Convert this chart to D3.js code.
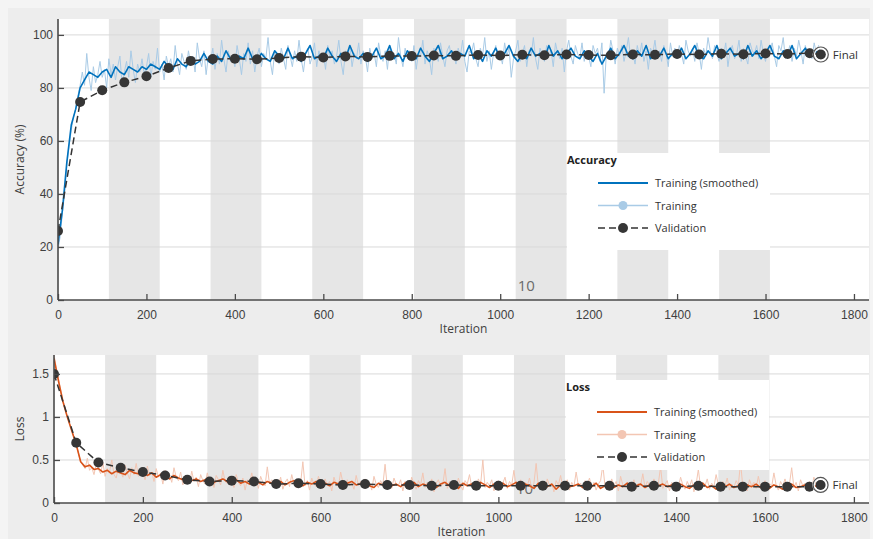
<!DOCTYPE html>
<html><head><meta charset="utf-8">
<script src="https://cdn.jsdelivr.net/npm/d3@7"></script>
<style>
html,body{margin:0;padding:0;background:#f4f4f4;}
svg{display:block;font-family:"Segoe UI","Open Sans","DejaVu Sans",sans-serif;}
</style></head>
<body><svg id="c" width="873" height="539"></svg>
<script>
// ---------------- DATA ----------------
const ITER_PER_EPOCH = 115;
const NUM_EPOCHS = 15;
const RAW_STEP = 5;      // raw training values every 5 iterations
const SMOOTH_STEP = 10;  // smoothed training values every 10 iterations
const xTicks = [0,200,400,600,800,1000,1200,1400,1600,1800];
const accTicks = [0,20,40,60,80,100];
const lossTicks = [0,0.5,1,1.5];
const lossTickLabels = ["0","0.5","1","1.5"];

const accRaw = [
19,24,33,40,51,58,64,69,72,77,81,86,81,93,84,79,88,82,85,90,
84,87,80,91,85,89,83,88,92,81,86,90,84,94,87,82,89,86,91,85,
88,93,84,90,87,95,86,89,83,92,88,91,86,96,89,85,93,90,87,94,
89,92,86,97,91,88,94,85,92,90,95,87,93,89,98,91,86,94,90,92,
88,96,91,85,93,90,97,89,94,86,92,95,88,93,91,99,90,85,94,92,
89,95,91,87,96,92,88,94,90,98,91,86,93,95,89,92,97,88,94,90,
93,87,96,91,94,89,92,98,90,85,94,92,96,88,93,91,97,89,94,92,
86,95,91,93,88,97,92,90,94,87,96,91,93,89,99,92,88,95,91,94,
90,96,87,93,92,98,89,94,91,85,95,93,90,97,92,88,94,96,91,93,
89,95,92,98,90,86,94,93,97,91,88,95,92,99,90,94,87,93,96,91,
93,89,97,92,95,84,91,94,98,90,93,96,88,94,92,99,91,87,95,93,
90,96,92,94,88,97,93,91,95,86,94,98,92,89,96,93,91,97,90,94,
92,88,96,93,95,90,97,78,93,91,98,94,89,95,92,96,90,94,99,91,
93,89,96,92,97,90,94,87,95,93,98,91,94,90,96,93,88,97,92,95,
91,96,93,89,98,94,92,95,90,97,93,87,95,92,99,94,91,96,93,90,
95,92,97,88,94,96,91,93,98,90,95,92,89,97,94,93,96,91,98,93,
90,95,93,97,92,88,96,94,99,91,93,96,90,95,92,98,94,89,96,93,
95,91,97,93,96,92];

const accSmooth = [
21,34,52,66,72,80,83,86,85,84,86,87,84,88,86,85,88,87,86,88,
87,89,88,87,90,88,87,91,89,88,91,89,90,93,90,89,92,90,94,91,
90,92,91,95,91,90,93,91,90,94,92,91,95,91,92,90,93,96,91,92,
91,95,92,90,93,91,96,92,91,93,90,92,95,91,92,96,91,93,90,94,
92,91,95,92,90,93,96,91,92,94,91,93,92,96,91,93,90,94,92,95,
91,93,96,92,90,93,91,95,92,93,91,96,92,94,91,93,95,92,91,94,
92,90,93,89,92,95,91,93,96,92,91,94,92,96,91,93,92,95,91,93,
92,95,91,93,96,92,91,94,92,96,91,93,95,92,93,91,96,92,94,91,
93,96,92,91,94,92,96,91,93,95,92,94,93];

const valIters = [0,50,100,150,200,250,300,350,400,450,500,550,600,650,700,750,800,850,900,950,
1000,1050,1100,1150,1200,1250,1300,1350,1400,1450,1500,1550,1600,1650,1700,1725];
const accVal = [26,74.7,79.1,82.1,84.4,87.5,90.2,90.9,91.0,90.8,91.3,91.8,91.5,91.9,91.7,92.1,92.0,92.2,92.1,92.4,
92.2,92.5,92.3,92.6,92.4,92.3,92.6,92.5,92.8,92.6,92.9,92.7,93.0,92.8,93.1,92.6];

const lossRaw = [
1.72,1.58,1.45,1.32,1.20,1.10,1.00,0.92,0.84,0.76,0.68,0.58,0.48,0.44,0.40,0.52,0.38,0.41,0.33,0.45,
0.39,0.34,0.47,0.31,0.40,0.36,0.50,0.33,0.29,0.42,0.37,0.30,0.44,0.35,0.28,0.41,0.33,0.46,0.31,0.38,
0.34,0.27,0.43,0.32,0.36,0.25,0.40,0.30,0.35,0.22,0.38,0.29,0.33,0.24,0.41,0.30,0.26,0.36,0.21,0.31,
0.28,0.23,0.37,0.25,0.30,0.19,0.33,0.26,0.22,0.35,0.24,0.29,0.18,0.32,0.27,0.21,0.38,0.25,0.23,0.30,
0.26,0.18,0.33,0.24,0.20,0.29,0.15,0.27,0.23,0.35,0.21,0.26,0.17,0.31,0.24,0.20,0.42,0.22,0.27,0.19,
0.25,0.21,0.30,0.16,0.24,0.28,0.19,0.33,0.22,0.18,0.27,0.23,0.48,0.20,0.26,0.15,0.29,0.22,0.19,0.31,
0.23,0.17,0.28,0.21,0.25,0.14,0.30,0.22,0.19,0.36,0.24,0.18,0.27,0.20,0.23,0.16,0.32,0.21,0.25,0.19,
0.28,0.20,0.24,0.15,0.31,0.22,0.18,0.26,0.21,0.45,0.19,0.24,0.17,0.29,0.22,0.20,0.27,0.14,0.25,0.21,
0.19,0.30,0.22,0.16,0.26,0.21,0.35,0.18,0.24,0.20,0.28,0.13,0.23,0.27,0.19,0.22,0.40,0.17,0.25,0.21,
0.24,0.18,0.29,0.20,0.15,0.26,0.22,0.33,0.19,0.23,0.17,0.28,0.21,0.50,0.18,0.24,0.20,0.27,0.14,0.22,
0.26,0.19,0.23,0.30,0.17,0.25,0.21,0.38,0.18,0.22,0.27,0.15,0.24,0.20,0.29,0.17,0.23,0.46,0.19,0.21,
0.25,0.16,0.28,0.20,0.23,0.13,0.26,0.21,0.32,0.18,0.22,0.27,0.15,0.24,0.19,0.36,0.20,0.23,0.17,0.26,
0.21,0.29,0.18,0.24,0.15,0.22,0.26,0.44,0.19,0.23,0.17,0.28,0.20,0.25,0.14,0.31,0.21,0.18,0.24,0.22,
0.19,0.27,0.16,0.23,0.20,0.34,0.18,0.25,0.21,0.15,0.28,0.19,0.23,0.42,0.17,0.22,0.26,0.14,0.24,0.20,
0.23,0.18,0.30,0.21,0.16,0.25,0.19,0.27,0.13,0.22,0.39,0.18,0.24,0.20,0.28,0.16,0.23,0.19,0.33,0.21,
0.17,0.25,0.20,0.29,0.15,0.22,0.18,0.26,0.21,0.47,0.19,0.23,0.14,0.27,0.20,0.24,0.17,0.31,0.19,0.22,
0.26,0.16,0.23,0.19,0.35,0.21,0.15,0.25,0.20,0.28,0.17,0.22,0.41,0.18,0.24,0.14,0.27,0.20,0.23,0.19,
0.25,0.17,0.30,0.21,0.18,0.24];

const lossSmooth = [
1.68,1.42,1.18,1.00,0.84,0.68,0.48,0.42,0.44,0.39,0.40,0.36,0.38,0.34,0.37,0.35,0.33,0.38,0.35,0.34,
0.36,0.32,0.35,0.30,0.33,0.31,0.28,0.32,0.29,0.27,0.30,0.26,0.28,0.25,0.27,0.29,0.24,0.26,0.28,0.25,
0.24,0.27,0.23,0.25,0.22,0.26,0.24,0.21,0.25,0.23,0.22,0.25,0.21,0.24,0.26,0.22,0.20,0.24,0.22,0.25,
0.21,0.23,0.20,0.24,0.22,0.19,0.23,0.25,0.21,0.22,0.24,0.20,0.18,0.23,0.21,0.24,0.20,0.22,0.19,0.23,
0.21,0.24,0.19,0.22,0.20,0.23,0.18,0.22,0.24,0.20,0.21,0.17,0.23,0.20,0.22,0.19,0.24,0.21,0.18,0.22,
0.20,0.23,0.19,0.21,0.24,0.18,0.22,0.20,0.17,0.23,0.21,0.19,0.22,0.16,0.21,0.23,0.19,0.20,0.22,0.18,
0.21,0.19,0.23,0.17,0.20,0.22,0.18,0.21,0.19,0.23,0.17,0.20,0.22,0.18,0.21,0.16,0.20,0.22,0.19,0.21,
0.18,0.22,0.19,0.17,0.21,0.20,0.23,0.18,0.20,0.16,0.21,0.19,0.22,0.18,0.20,0.17,0.21,0.19,0.22,0.18,
0.20,0.17,0.21,0.19,0.16,0.20,0.22,0.18,0.19,0.21,0.17,0.20,0.19];

const lossVal = [1.50,0.70,0.47,0.41,0.36,0.32,0.27,0.25,0.26,0.25,0.22,0.23,0.22,0.21,0.22,0.21,0.21,0.20,0.21,0.20,
0.20,0.20,0.20,0.20,0.20,0.20,0.19,0.20,0.19,0.20,0.19,0.19,0.19,0.19,0.19,0.21];

const epochLabel = "10";
const epochLabelIndex = 10;

// ---------------- DRAW ----------------
const svg = d3.select("#c");
svg.append("rect").attr("x",8).attr("y",8).attr("width",862).attr("height",531).attr("fill","#ededed");

const XMAX = 1834;
const panels = [
  {key:"acc", left:58, right:869, top:19, bottom:300, ymax:106, ticks:accTicks, tickLabels:accTicks.map(String),
   ylabel:"Accuracy (%)", raw:accRaw, smooth:accSmooth, val:accVal,
   cMain:"#0072bd", cRaw:"#a9cbe6", title:"Accuracy",
   legend:{x:567,y:153,w:203,h:97}},
  {key:"loss", left:54, right:869, top:355, bottom:503, ymax:1.72, ticks:lossTicks, tickLabels:lossTickLabels,
   ylabel:"Loss", raw:lossRaw, smooth:lossSmooth, val:lossVal,
   cMain:"#d95319", cRaw:"#f3c6b3", title:"Loss",
   legend:{x:566,y:380,w:203,h:90}}
];

const axisColor = "#4a4a4a";
const textColor = "#404040";

panels.forEach(p => {
  const x = d3.scaleLinear().domain([0,XMAX]).range([p.left,p.right]);
  const y = d3.scaleLinear().domain([0,p.ymax]).range([p.bottom,p.top]);
  const g = svg.append("g");
  const clipId = "clip-"+p.key;
  svg.append("clipPath").attr("id",clipId).append("rect")
    .attr("x",p.left).attr("y",p.top).attr("width",p.right-p.left).attr("height",p.bottom-p.top);

  g.append("rect").attr("x",p.left).attr("y",p.top).attr("width",p.right-p.left).attr("height",p.bottom-p.top).attr("fill","#ffffff");

  // epoch bands (even epochs shaded)
  const epochs = d3.range(1,NUM_EPOCHS+1).filter(e => e%2===0);
  g.selectAll(".band").data(epochs).join("rect")
    .attr("x", e => x((e-1)*ITER_PER_EPOCH))
    .attr("width", e => x(e*ITER_PER_EPOCH)-x((e-1)*ITER_PER_EPOCH))
    .attr("y",p.top).attr("height",p.bottom-p.top)
    .attr("fill","#e6e6e6");

  // grid
  g.selectAll(".grid").data(p.ticks.filter(t=>t>0)).join("line")
    .attr("x1",p.left).attr("x2",p.right)
    .attr("y1",d=>y(d)).attr("y2",d=>y(d))
    .attr("stroke","#d9d9d9").attr("stroke-width",1);

  // epoch label
  const epochStart = (epochLabelIndex-1)*ITER_PER_EPOCH;
  g.append("text").attr("x",x(epochStart)+2).attr("y",p.bottom-9)
    .attr("text-anchor","start").attr("font-size",15).attr("fill","#6a6a6a").text(epochLabel);

  const dataG = g.append("g").attr("clip-path",`url(#${clipId})`);

  const rawPts = p.raw.map((v,i)=>[i*RAW_STEP, v]);
  const smPts = p.smooth.map((v,i)=>[i*SMOOTH_STEP, v]);
  const valPts = p.val.map((v,i)=>[valIters[i], v]);
  const line = d3.line().x(d=>x(d[0])).y(d=>y(d[1]));

  dataG.append("path").attr("d",line(rawPts)).attr("fill","none")
    .attr("stroke",p.cRaw).attr("stroke-width",1);
  dataG.append("path").attr("d",line(smPts)).attr("fill","none")
    .attr("stroke",p.cMain).attr("stroke-width",1.6).attr("stroke-linejoin","round");
  dataG.append("path").attr("d",line(valPts)).attr("fill","none")
    .attr("stroke","#333333").attr("stroke-width",1.5).attr("stroke-dasharray","7,4");
  dataG.selectAll(".vp").data(valPts).join("circle")
    .attr("cx",d=>x(d[0])).attr("cy",d=>y(d[1])).attr("r",5).attr("fill","#363636");

  // final marker
  const last = valPts[valPts.length-1];
  g.append("circle").attr("cx",x(last[0])).attr("cy",y(last[1])).attr("r",7)
    .attr("fill","none").attr("stroke","#ffffff").attr("stroke-width",2.5);
  g.append("circle").attr("cx",x(last[0])).attr("cy",y(last[1])).attr("r",7.5)
    .attr("fill","none").attr("stroke","#555").attr("stroke-width",1.2);
  g.append("circle").attr("cx",x(last[0])).attr("cy",y(last[1])).attr("r",4.5).attr("fill","#363636");
  g.append("text").attr("x",x(last[0])+12).attr("y",y(last[1])+4)
    .attr("font-size",11.5).attr("fill","#333").text("Final");

  // axes
  const xAxis = d3.axisBottom(x).tickValues(xTicks).tickSize(-6).tickPadding(10).tickFormat(d3.format("d"));
  const xa = g.append("g").attr("transform",`translate(0,${p.bottom})`).call(xAxis);
  xa.select(".domain").attr("stroke",axisColor).attr("stroke-width",1.6).attr("d",`M${p.left},0H${p.right}`);
  xa.selectAll(".tick line").attr("stroke",axisColor).attr("stroke-width",1.3);
  xa.selectAll(".tick text").attr("fill",textColor).attr("font-size",12).attr("font-family",null);

  const yAxis = d3.axisLeft(y).tickValues(p.ticks).tickSize(-6).tickPadding(5)
    .tickFormat((d,i)=>p.tickLabels[i]);
  const ya = g.append("g").attr("transform",`translate(${p.left},0)`).call(yAxis);
  ya.select(".domain").attr("stroke",axisColor).attr("stroke-width",1.6).attr("d",`M0,${p.top}V${p.bottom}`);
  ya.selectAll(".tick line").attr("stroke",axisColor).attr("stroke-width",1.3);
  ya.selectAll(".tick text").attr("fill",textColor).attr("font-size",12).attr("font-family",null);

  g.append("text").attr("x",(p.left+p.right)/2).attr("y",p.bottom+33)
    .attr("text-anchor","middle").attr("font-size",12).attr("fill",textColor).text("Iteration");
  g.append("text").attr("transform",`translate(24,${(p.top+p.bottom)/2}) rotate(-90)`)
    .attr("text-anchor","middle").attr("font-size",12).attr("fill",textColor).text(p.ylabel);

  // legend
  const L = p.legend;
  const lg = g.append("g");
  lg.append("rect").attr("x",L.x).attr("y",L.y).attr("width",L.w).attr("height",L.h).attr("fill","#ffffff");
  lg.append("text").attr("x",L.x).attr("y",L.y+11).attr("font-size",11).attr("font-weight","bold")
    .attr("fill","#222").text(p.title);
  const rows = [
    {t:"Training (smoothed)", c:p.cMain, w:1.8, dash:null, dot:false},
    {t:"Training", c:p.cRaw, w:1.6, dash:null, dot:true},
    {t:"Validation", c:"#333333", w:1.5, dash:"7,4", dot:true}
  ];
  const r0 = L.y + (p.key==="acc" ? 30 : 32);
  rows.forEach((r,i)=>{
    const yy = r0 + i*22.5;
    lg.append("line").attr("x1",L.x+31).attr("x2",L.x+81).attr("y1",yy).attr("y2",yy)
      .attr("stroke",r.c).attr("stroke-width",r.w).attr("stroke-dasharray",r.dash);
    if(r.dot) lg.append("circle").attr("cx",L.x+56).attr("cy",yy).attr("r",i===2?5:4.5).attr("fill",i===2?"#363636":r.c);
    lg.append("text").attr("x",L.x+88).attr("y",yy+4).attr("font-size",11).attr("fill","#333").text(r.t);
  });
});
</script></body></html>
